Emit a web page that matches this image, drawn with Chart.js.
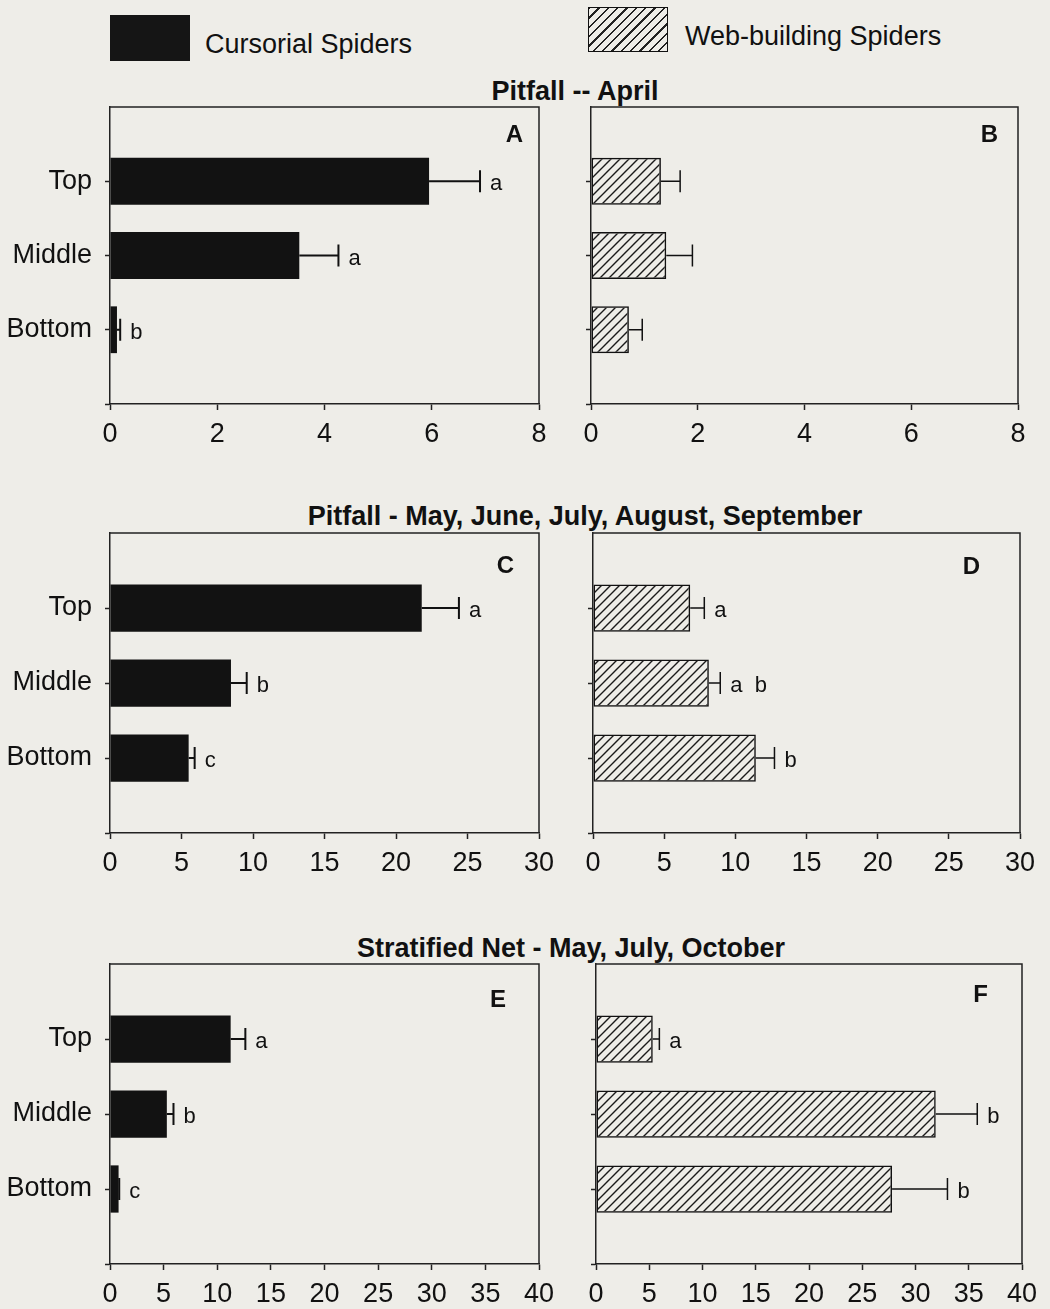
<!DOCTYPE html>
<html><head><meta charset="utf-8">
<script src="https://cdn.jsdelivr.net/npm/chart.js@4.4.1/dist/chart.umd.min.js"></script>
<style>
html,body{margin:0;padding:0;background:#eeede8;}
body{width:1050px;height:1309px;position:relative;overflow:hidden;font-family:"Liberation Sans",Arial,sans-serif;color:#111;}
canvas{position:absolute;}
.t{position:absolute;font-weight:bold;font-size:27px;white-space:nowrap;transform:translateX(-50%);line-height:1;}
.lg{position:absolute;font-size:27px;white-space:nowrap;line-height:1;}
.sw{position:absolute;box-sizing:border-box;}
</style></head><body>
<div class="sw" style="left:110px;top:15px;width:80px;height:46px;background:#151515"></div>
<div class="lg" style="left:205px;top:31px">Cursorial Spiders</div>
<div class="sw" style="left:588px;top:7px;width:80px;height:45px;border:1.5px solid #111;background:repeating-linear-gradient(-45deg, rgba(0,0,0,0) 0 5px, #222 5px 6.6px)"></div>
<div class="lg" style="left:685px;top:23px">Web-building Spiders</div>
<div class="t" style="left:575px;top:78px">Pitfall -- April</div>
<div class="t" style="left:585px;top:503px">Pitfall - May, June, July, August, September</div>
<div class="t" style="left:571px;top:935px">Stratified Net - May, July, October</div>
<canvas id="cA"></canvas><canvas id="cB"></canvas>
<canvas id="cC"></canvas><canvas id="cD"></canvas>
<canvas id="cE"></canvas><canvas id="cF"></canvas>
<script>
// ---------- data ----------
const categories = ['Top', 'Middle', 'Bottom'];

const aprilCursorial    = [5.95, 3.53, 0.13];
const aprilCursorialSE  = [0.95, 0.73, 0.06];
const aprilCursorialSig = ['a', 'a', 'b'];

const aprilWeb    = [1.31, 1.41, 0.71];
const aprilWebSE  = [0.36, 0.49, 0.25];
const aprilWebSig = ['', '', ''];

const summerCursorial    = [21.8, 8.46, 5.5];
const summerCursorialSE  = [2.6, 1.1, 0.42];
const summerCursorialSig = ['a', 'b', 'c'];

const summerWeb    = [6.83, 8.14, 11.44];
const summerWebSE  = [0.99, 0.80, 1.31];
const summerWebSig = ['a', 'a  b', 'b'];

const netCursorial    = [11.25, 5.3, 0.8];
const netCursorialSE  = [1.37, 0.62, 0.06];
const netCursorialSig = ['a', 'b', 'c'];

const netWeb    = [5.33, 31.9, 27.8];
const netWebSE  = [0.62, 3.9, 5.2];
const netWebSig = ['a', 'b', 'b'];

const aprilTicks = {max: 8, step: 2};
const summerTicks = {max: 30, step: 5};
const netTicks = {max: 40, step: 5};

// ---------- styling helpers ----------
const FONT = '"Liberation Sans", Arial, sans-serif';
function hatchPattern() {
  const c = document.createElement('canvas');
  c.width = 9; c.height = 9;
  const g = c.getContext('2d');
  g.strokeStyle = '#1a1a1a';
  g.lineWidth = 1.4;
  g.beginPath();
  g.moveTo(-1, 10); g.lineTo(10, -1);
  g.moveTo(-1, 1); g.lineTo(1, -1);
  g.moveTo(8, 10); g.lineTo(10, 8);
  g.stroke();
  return g.createPattern(c, 'repeat');
}

function overlay(values, errors, letters, panel, pr, pt, errWidth) {
  return {
    id: 'overlay',
    afterDatasetsDraw(chart) {
      const ctx = chart.ctx, a = chart.chartArea, x = chart.scales.x, y = chart.scales.y;
      ctx.save();
      ctx.strokeStyle = '#222'; ctx.lineWidth = 1.5;
      ctx.beginPath();
      ctx.moveTo(a.left, a.top); ctx.lineTo(a.right, a.top); ctx.lineTo(a.right, a.bottom);
      ctx.stroke();
      values.forEach((v, i) => {
        const yy = y.getPixelForValue(i + 1);
        const x0 = x.getPixelForValue(v);
        const x1 = x.getPixelForValue(v + errors[i]);
        ctx.strokeStyle = '#111'; ctx.lineWidth = errWidth;
        ctx.beginPath();
        ctx.moveTo(x0, yy); ctx.lineTo(x1, yy);
        ctx.moveTo(x1, yy - 11); ctx.lineTo(x1, yy + 11);
        ctx.stroke();
        if (letters[i]) {
          ctx.fillStyle = '#111';
          ctx.font = '22px ' + FONT;
          ctx.textAlign = 'left'; ctx.textBaseline = 'alphabetic';
          ctx.fillText(letters[i], x1 + 10, yy + 9);
        }
      });
      ctx.fillStyle = '#111';
      ctx.font = 'bold 24px ' + FONT;
      ctx.textAlign = 'right'; ctx.textBaseline = 'alphabetic';
      ctx.fillText(panel, a.right - pr, a.top + pt + 17);
      ctx.restore();
    }
  };
}

function makePanel(p) {
  const cv = document.getElementById(p.id);
  const padTop = 32, axisH = 55;
  const W = p.canvasW, H = (p.bottom - p.top) + padTop + axisH;
  cv.width = W; cv.height = H;
  cv.style.left = p.canvasLeft + 'px';
  cv.style.top = (p.top - padTop) + 'px';
  cv.style.width = W + 'px'; cv.style.height = H + 'px';
  const hatched = p.kind === 'web';
  new Chart(cv, {
    type: 'bar',
    data: {
      labels: [''].concat(categories, ['']),
      datasets: [{
        data: [null].concat(p.values, [null]),
        backgroundColor: hatched ? hatchPattern() : '#121212',
        borderColor: '#111',
        borderWidth: hatched ? 1.5 : 0,
        borderSkipped: false,
        categoryPercentage: 1,
        barPercentage: 0.63
      }]
    },
    options: {
      indexAxis: 'y',
      responsive: false,
      animation: false,
      devicePixelRatio: 1,
      layout: {padding: {top: padTop, right: p.canvasLeft + W - p.right, left: 0, bottom: 0}},
      plugins: {legend: {display: false}, tooltip: {enabled: false}},
      scales: {
        x: {
          type: 'linear', min: 0, max: p.ticks.max,
          ticks: {stepSize: p.ticks.step, color: '#111', font: {family: FONT, size: 27}, padding: 8, maxRotation: 0},
          grid: {drawOnChartArea: false, drawTicks: true, tickLength: 6, tickColor: '#222', tickWidth: 1.5},
          border: {display: true, color: '#222', width: 1.5},
          afterFit(s) { s.height = axisH; }
        },
        y: {
          type: 'category', offset: false,
          ticks: {
            color: '#111', font: {family: FONT, size: 27}, padding: 13, autoSkip: false,
            callback(v, i) { return hatched ? '' : this.getLabelForValue(v); }
          },
          grid: {
            offset: false,
            drawOnChartArea: false, drawTicks: true, tickLength: 5, tickWidth: 1.5,
            tickColor: (c) => c.index === 0 ? 'rgba(0,0,0,0)' : '#222'
          },
          border: {display: true, color: '#222', width: 1.5},
          afterFit(s) { s.width = p.left - p.canvasLeft; }
        }
      }
    },
    plugins: [overlay(p.values, p.errors, p.letters, p.panel, p.pr, p.pt, hatched ? 1.5 : 2)]
  });
}

const L = {canvasLeft: 0, canvasW: 578};
const R = {canvasLeft: 560, canvasW: 490};
makePanel(Object.assign({id: 'cA', kind: 'cur', panel: 'A', values: aprilCursorial, errors: aprilCursorialSE, letters: aprilCursorialSig, ticks: aprilTicks, left: 110, right: 539, top: 107, bottom: 404, pr: 16, pt: 18}, L));
makePanel(Object.assign({id: 'cB', kind: 'web', panel: 'B', values: aprilWeb, errors: aprilWebSE, letters: aprilWebSig, ticks: aprilTicks, left: 591, right: 1018, top: 107, bottom: 404, pr: 20, pt: 18}, R));
makePanel(Object.assign({id: 'cC', kind: 'cur', panel: 'C', values: summerCursorial, errors: summerCursorialSE, letters: summerCursorialSig, ticks: summerTicks, left: 110, right: 539, top: 533, bottom: 833, pr: 25, pt: 23}, L));
makePanel(Object.assign({id: 'cD', kind: 'web', panel: 'D', values: summerWeb, errors: summerWebSE, letters: summerWebSig, ticks: summerTicks, left: 593, right: 1020, top: 533, bottom: 833, pr: 40, pt: 24}, R));
makePanel(Object.assign({id: 'cE', kind: 'cur', panel: 'E', values: netCursorial, errors: netCursorialSE, letters: netCursorialSig, ticks: netTicks, left: 110, right: 539, top: 964, bottom: 1264, pr: 33, pt: 26}, L));
makePanel(Object.assign({id: 'cF', kind: 'web', panel: 'F', values: netWeb, errors: netWebSE, letters: netWebSig, ticks: netTicks, left: 596, right: 1022, top: 964, bottom: 1264, pr: 34, pt: 21}, R));
</script>
</body></html>
